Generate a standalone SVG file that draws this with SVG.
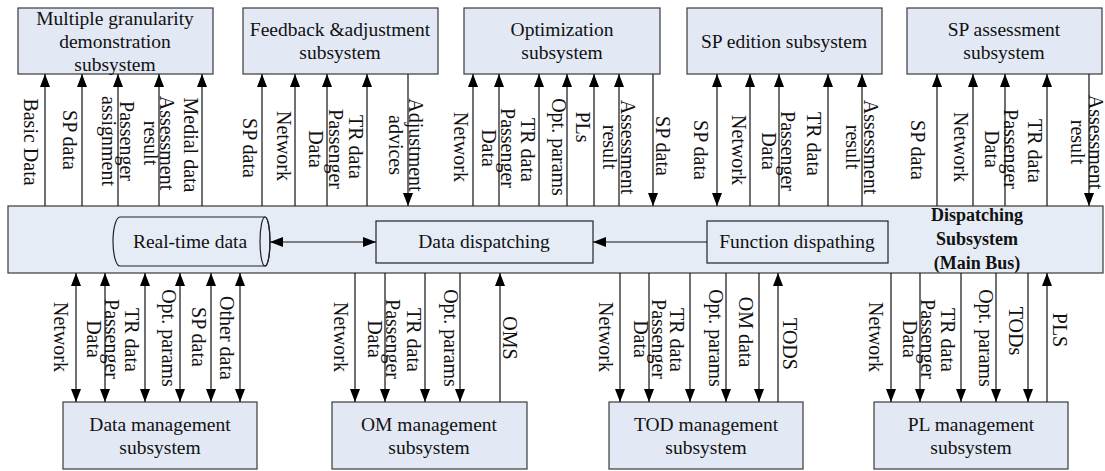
<svg xmlns="http://www.w3.org/2000/svg" width="1105" height="471" viewBox="0 0 1105 471">
<style>
.box{fill:#e2e8f4;stroke:#3a3a3a;stroke-width:1.2}
.bus{fill:#e6ecf6;stroke:#3a3a3a;stroke-width:1.2}
.inner{fill:#e6ecf6;stroke:#222;stroke-width:1.2}
.t{font-family:"Liberation Serif","Times New Roman",serif;font-size:19.5px;fill:#111;text-anchor:middle}
.lb{font-family:"Liberation Serif","Times New Roman",serif;font-size:20px;fill:#111;text-anchor:middle}
.bold{font-weight:bold;font-size:18px}
.c line{stroke:#111;stroke-width:1.2}
.u{marker-end:url(#ah)}
.bi{marker-start:url(#ah);marker-end:url(#ah)}
</style>
<defs>
<marker id="ah" markerUnits="userSpaceOnUse" markerWidth="13" markerHeight="10" refX="13" refY="5" orient="auto-start-reverse">
<path d="M0,0 L13,5 L0,10 z" fill="#000"/>
</marker>
</defs>

<rect x="0" y="0" width="1105" height="471" fill="#fff"/>

<g id="bus">
<rect class="bus" x="8" y="206" width="1095" height="67"/>
<text class="t bold" x="977" y="221">Dispatching</text>
<text class="t bold" x="977" y="245">Subsystem</text>
<text class="t bold" x="977" y="269">(Main Bus)</text>
</g>

<g id="realtime">
<path class="inner" d="M120,217 L265,217 A5,24.5 0 0 1 265,266 L120,266 A7,24.5 0 0 1 120,217 z"/>
<ellipse cx="265" cy="241.5" rx="5" ry="24.5" fill="none" stroke="#222" stroke-width="1.2"/>
<text class="t" x="190" y="248">Real-time data</text>
</g>
<g id="datadisp">
<rect class="inner" x="376" y="221" width="217" height="42"/>
<text class="t" x="484" y="248">Data dispatching</text>
</g>
<g id="funcdisp">
<rect class="inner" x="707" y="221" width="181" height="42"/>
<text class="t" x="797" y="248">Function dispathing</text>
</g>

<g id="mgd">
<rect class="box" x="18" y="8" width="195" height="66"/>
<text class="t" x="115" y="25">Multiple granularity</text>
<text class="t" x="115" y="48">demonstration</text>
<text class="t" x="115" y="71">subsystem</text>
</g>
<g id="fas">
<rect class="box" x="243" y="8" width="195" height="66"/>
<text class="t" x="340" y="36">Feedback &amp;adjustment</text>
<text class="t" x="340" y="59">subsystem</text>
</g>
<g id="opt">
<rect class="box" x="464" y="8" width="196" height="66"/>
<text class="t" x="562" y="36">Optimization</text>
<text class="t" x="562" y="59">subsystem</text>
</g>
<g id="spe">
<rect class="box" x="687" y="8" width="195" height="66"/>
<text class="t" x="784" y="48">SP edition subsystem</text>
</g>
<g id="spa">
<rect class="box" x="907" y="8" width="195" height="66"/>
<text class="t" x="1004" y="36">SP assessment</text>
<text class="t" x="1004" y="59">subsystem</text>
</g>

<g id="dm">
<rect class="box" x="63" y="402" width="194" height="67"/>
<text class="t" x="160" y="431">Data management</text>
<text class="t" x="160" y="454">subsystem</text>
</g>
<g id="om">
<rect class="box" x="332" y="402" width="195" height="67"/>
<text class="t" x="429" y="431">OM management</text>
<text class="t" x="429" y="454">subsystem</text>
</g>
<g id="tod">
<rect class="box" x="609" y="402" width="194" height="67"/>
<text class="t" x="706" y="431">TOD management</text>
<text class="t" x="706" y="454">subsystem</text>
</g>
<g id="pl">
<rect class="box" x="874" y="402" width="194" height="67"/>
<text class="t" x="971" y="431">PL management</text>
<text class="t" x="971" y="454">subsystem</text>
</g>

<g id="connectors" class="c">
<line class="bi" x1="270" y1="242" x2="376" y2="242"/>
<line class="u" x1="707" y1="242" x2="593" y2="242"/>
<line class="u" x1="45" y1="206" x2="45" y2="74"/>
<line class="u" x1="82" y1="206" x2="82" y2="74"/>
<line class="u" x1="118" y1="206" x2="118" y2="74"/>
<line class="u" x1="159" y1="206" x2="159" y2="74"/>
<line class="u" x1="202" y1="206" x2="202" y2="74"/>
<line class="u" x1="262" y1="206" x2="262" y2="74"/>
<line class="u" x1="295" y1="206" x2="295" y2="74"/>
<line class="u" x1="327" y1="206" x2="327" y2="74"/>
<line class="u" x1="367" y1="206" x2="367" y2="74"/>
<line class="u" x1="408" y1="74" x2="408" y2="206"/>
<line class="u" x1="473" y1="206" x2="473" y2="74"/>
<line class="u" x1="499" y1="206" x2="499" y2="74"/>
<line class="u" x1="539" y1="206" x2="539" y2="74"/>
<line class="u" x1="567" y1="206" x2="567" y2="74"/>
<line class="u" x1="594" y1="206" x2="594" y2="74"/>
<line class="u" x1="619" y1="206" x2="619" y2="74"/>
<line class="u" x1="653" y1="74" x2="653" y2="206"/>
<line class="bi" x1="717" y1="206" x2="717" y2="74"/>
<line class="u" x1="750" y1="206" x2="750" y2="74"/>
<line class="u" x1="779" y1="206" x2="779" y2="74"/>
<line class="u" x1="828" y1="206" x2="828" y2="74"/>
<line class="u" x1="862" y1="206" x2="862" y2="74"/>
<line class="u" x1="937" y1="206" x2="937" y2="74"/>
<line class="u" x1="973" y1="206" x2="973" y2="74"/>
<line class="u" x1="1005" y1="206" x2="1005" y2="74"/>
<line class="u" x1="1047" y1="206" x2="1047" y2="74"/>
<line class="u" x1="1089" y1="74" x2="1089" y2="206"/>
<line class="bi" x1="76" y1="273" x2="76" y2="402"/>
<line class="bi" x1="105" y1="273" x2="105" y2="402"/>
<line class="bi" x1="145" y1="273" x2="145" y2="402"/>
<line class="bi" x1="180" y1="273" x2="180" y2="402"/>
<line class="bi" x1="211" y1="273" x2="211" y2="402"/>
<line class="bi" x1="240" y1="273" x2="240" y2="402"/>
<line class="u" x1="355" y1="273" x2="355" y2="402"/>
<line class="u" x1="385" y1="273" x2="385" y2="402"/>
<line class="u" x1="425" y1="273" x2="425" y2="402"/>
<line class="u" x1="460" y1="273" x2="460" y2="402"/>
<line class="u" x1="500" y1="402" x2="500" y2="273"/>
<line class="u" x1="620" y1="273" x2="620" y2="402"/>
<line class="u" x1="649" y1="273" x2="649" y2="402"/>
<line class="u" x1="690" y1="273" x2="690" y2="402"/>
<line class="u" x1="726" y1="273" x2="726" y2="402"/>
<line class="u" x1="759" y1="273" x2="759" y2="402"/>
<line class="u" x1="778" y1="402" x2="778" y2="273"/>
<line class="u" x1="891" y1="273" x2="891" y2="402"/>
<line class="u" x1="920" y1="273" x2="920" y2="402"/>
<line class="u" x1="961" y1="273" x2="961" y2="402"/>
<line class="u" x1="996" y1="273" x2="996" y2="402"/>
<line class="u" x1="1028" y1="273" x2="1028" y2="402"/>
<line class="u" x1="1047" y1="402" x2="1047" y2="273"/>
</g>

<g id="labels">
<text class="lb" transform="translate(31,142) rotate(90)" y="7">Basic Data</text>
<text class="lb" transform="translate(70,140) rotate(90)" y="7">SP data</text>
<text class="lb" transform="translate(118,141) rotate(90)"><tspan x="0" y="-2">Passenger</tspan><tspan x="0" y="16">assignment</tspan></text>
<text class="lb" transform="translate(159,143) rotate(90)"><tspan x="0" y="-1">Assessment</tspan><tspan x="0" y="15">result</tspan></text>
<text class="lb" transform="translate(191,145) rotate(90)" y="7">Medial data</text>
<text class="lb" transform="translate(250,148) rotate(90)" y="7">SP data</text>
<text class="lb" transform="translate(284,146) rotate(90)" y="7">Network</text>
<text class="lb" transform="translate(326,149) rotate(90)"><tspan x="0" y="-3">Passenger</tspan><tspan x="0" y="17">Data</tspan></text>
<text class="lb" transform="translate(356,147) rotate(90)" y="7">TR data</text>
<text class="lb" transform="translate(406,145) rotate(90)"><tspan x="0" y="-3">Adjustment</tspan><tspan x="0" y="17">advices</tspan></text>
<text class="lb" transform="translate(461,147) rotate(90)" y="7">Network</text>
<text class="lb" transform="translate(498,148) rotate(90)"><tspan x="0" y="-3">Passenger</tspan><tspan x="0" y="16">Data</tspan></text>
<text class="lb" transform="translate(528,150) rotate(90)" y="7">TR data</text>
<text class="lb" transform="translate(559,147) rotate(90)" y="7">Opt. params</text>
<text class="lb" transform="translate(583,127) rotate(90)" y="7">PLs</text>
<text class="lb" transform="translate(619,147) rotate(90)"><tspan x="0" y="-2">Assessment</tspan><tspan x="0" y="16">result</tspan></text>
<text class="lb" transform="translate(663,146) rotate(90)" y="7">SP data</text>
<text class="lb" transform="translate(701,150) rotate(90)" y="7">SP data</text>
<text class="lb" transform="translate(739,150) rotate(90)" y="7">Network</text>
<text class="lb" transform="translate(778,151) rotate(90)"><tspan x="0" y="-3">Passenger</tspan><tspan x="0" y="16">Data</tspan></text>
<text class="lb" transform="translate(814,144) rotate(90)" y="7">TR data</text>
<text class="lb" transform="translate(862,147) rotate(90)"><tspan x="0" y="-2">Assessment</tspan><tspan x="0" y="16">result</tspan></text>
<text class="lb" transform="translate(918,150) rotate(90)" y="7">SP data</text>
<text class="lb" transform="translate(961,147) rotate(90)" y="7">Network</text>
<text class="lb" transform="translate(1001,149) rotate(90)"><tspan x="0" y="-3">Passenger</tspan><tspan x="0" y="16">Data</tspan></text>
<text class="lb" transform="translate(1035,151) rotate(90)" y="7">TR data</text>
<text class="lb" transform="translate(1087,142) rotate(90)"><tspan x="0" y="-2">Assessment</tspan><tspan x="0" y="16">result</tspan></text>
<text class="lb" transform="translate(61,337) rotate(90)" y="7">Network</text>
<text class="lb" transform="translate(103,339) rotate(90)"><tspan x="0" y="-2">Passenger</tspan><tspan x="0" y="16">Data</tspan></text>
<text class="lb" transform="translate(132,340) rotate(90)" y="7">TR data</text>
<text class="lb" transform="translate(169,338) rotate(90)" y="7">Opt. params</text>
<text class="lb" transform="translate(199,337) rotate(90)" y="7">SP data</text>
<text class="lb" transform="translate(227,338) rotate(90)" y="7">Other data</text>
<text class="lb" transform="translate(341,337) rotate(90)" y="7">Network</text>
<text class="lb" transform="translate(384,339) rotate(90)"><tspan x="0" y="-2">Passenger</tspan><tspan x="0" y="16">Data</tspan></text>
<text class="lb" transform="translate(414,340) rotate(90)" y="7">TR data</text>
<text class="lb" transform="translate(451,338) rotate(90)" y="7">Opt. params</text>
<text class="lb" transform="translate(510,338) rotate(90)" y="7">OMS</text>
<text class="lb" transform="translate(606,337) rotate(90)" y="7">Network</text>
<text class="lb" transform="translate(650,339) rotate(90)"><tspan x="0" y="-2">Passenger</tspan><tspan x="0" y="16">Data</tspan></text>
<text class="lb" transform="translate(677,340) rotate(90)" y="7">TR data</text>
<text class="lb" transform="translate(716,338) rotate(90)" y="7">Opt. params</text>
<text class="lb" transform="translate(746,332) rotate(90)" y="7">OM data</text>
<text class="lb" transform="translate(790,344) rotate(90)" y="7">TODS</text>
<text class="lb" transform="translate(876,337) rotate(90)" y="7">Network</text>
<text class="lb" transform="translate(919,339) rotate(90)"><tspan x="0" y="-2">Passenger</tspan><tspan x="0" y="16">Data</tspan></text>
<text class="lb" transform="translate(948,340) rotate(90)" y="7">TR data</text>
<text class="lb" transform="translate(986,338) rotate(90)" y="7">Opt. params</text>
<text class="lb" transform="translate(1016,331) rotate(90)" y="7">TODs</text>
<text class="lb" transform="translate(1060,330) rotate(90)" y="7">PLS</text>
</g>
</svg>
